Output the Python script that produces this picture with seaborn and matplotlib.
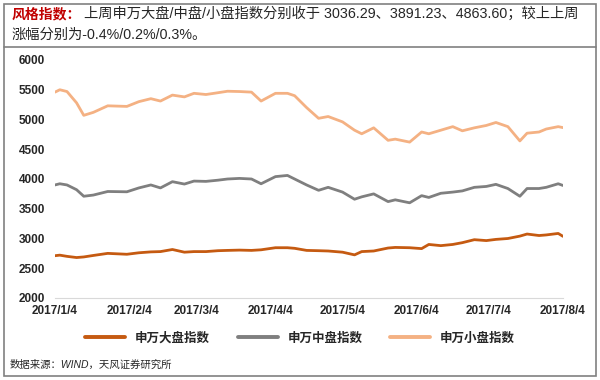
import matplotlib
matplotlib.use("Agg")
import matplotlib.pyplot as plt
from matplotlib.lines import Line2D
from matplotlib.patches import Rectangle
import pandas as pd
import seaborn as sns

# values
dates = ["2017-01-04", "2017-01-06", "2017-01-09", "2017-01-13", "2017-01-16", "2017-01-20",
         "2017-01-26", "2017-02-03", "2017-02-08", "2017-02-13", "2017-02-17", "2017-02-22",
         "2017-02-27", "2017-03-03", "2017-03-08", "2017-03-13", "2017-03-17", "2017-03-22",
         "2017-03-27", "2017-03-31", "2017-04-06", "2017-04-11", "2017-04-14", "2017-04-19",
         "2017-04-24", "2017-04-28", "2017-05-04", "2017-05-09", "2017-05-12", "2017-05-17",
         "2017-05-23", "2017-05-26", "2017-06-01", "2017-06-06", "2017-06-09", "2017-06-14",
         "2017-06-19", "2017-06-23", "2017-06-28", "2017-07-03", "2017-07-07", "2017-07-12",
         "2017-07-17", "2017-07-20", "2017-07-25", "2017-07-28", "2017-08-02", "2017-08-04"]

large_cap = [2711, 2720, 2700, 2680, 2690, 2715, 2750, 2735, 2760, 2775, 2780, 2815,
             2770, 2780, 2780, 2795, 2800, 2805, 2800, 2810, 2845, 2845, 2835, 2800,
             2795, 2790, 2770, 2725, 2780, 2790, 2840, 2850, 2845, 2830, 2900, 2880,
             2900, 2930, 2980, 2965, 2985, 3000, 3040, 3075, 3050, 3060, 3085, 3036.29]

mid_cap = [3900, 3920, 3900, 3820, 3710, 3730, 3790, 3785, 3850, 3900, 3850, 3955,
           3915, 3965, 3960, 3980, 4000, 4010, 4000, 3920, 4040, 4060, 4000, 3900,
           3810, 3860, 3780, 3660, 3700, 3750, 3620, 3650, 3600, 3720, 3690, 3760,
           3780, 3800, 3860, 3875, 3910, 3840, 3710, 3840, 3840, 3860, 3920, 3891.23]

small_cap = [5460, 5500, 5470, 5280, 5070, 5120, 5230, 5220, 5300, 5350, 5310, 5410,
             5380, 5440, 5420, 5450, 5475, 5470, 5460, 5310, 5440, 5440, 5400, 5200,
             5020, 5050, 4960, 4820, 4760, 4860, 4650, 4670, 4620, 4790, 4760, 4820,
             4880, 4810, 4860, 4900, 4950, 4880, 4640, 4770, 4790, 4840, 4880, 4863.60]

series_names = ["申万大盘指数", "申万中盘指数", "申万小盘指数"]
colors = ["#C55A11", "#7F7F7F", "#F4B183"]
tick_dates = ["2017-01-04", "2017-02-04", "2017-03-04", "2017-04-04",
              "2017-05-04", "2017-06-04", "2017-07-04", "2017-08-04"]
tick_labels = ["2017/1/4", "2017/2/4", "2017/3/4", "2017/4/4",
               "2017/5/4", "2017/6/4", "2017/7/4", "2017/8/4"]
y_ticks = [2000, 2500, 3000, 3500, 4000, 4500, 5000, 5500, 6000]

df = pd.DataFrame({"date": pd.to_datetime(dates),
                   series_names[0]: large_cap,
                   series_names[1]: mid_cap,
                   series_names[2]: small_cap})
long_df = df.melt(id_vars="date", var_name="series", value_name="value")

sns.set_style("white")
plt.rcParams["font.family"] = ["Liberation Sans", "Noto Sans CJK SC", "DejaVu Sans"]

fig = plt.figure(figsize=(6, 3.8), dpi=100)
ax = fig.add_axes([55 / 600, 1 - 298 / 380, 508 / 600, 238 / 380])

sns.lineplot(data=long_df, x="date", y="value", hue="series", hue_order=series_names,
             palette=colors, linewidth=2.0, ax=ax, legend=False)

ax.set_xlim(pd.Timestamp("2017-01-04"), pd.Timestamp("2017-08-04"))
ax.set_ylim(2000, 6000)
ax.set_xticks(pd.to_datetime(tick_dates))
ax.set_xticklabels(tick_labels, fontsize=8.5, fontweight="bold")
ax.set_yticks(y_ticks)
ax.set_yticklabels([str(v) for v in y_ticks], fontsize=8.5, fontweight="bold")
ax.set_xlabel("")
ax.set_ylabel("")
for side in ["left", "right", "top"]:
    ax.spines[side].set_visible(False)
ax.spines["bottom"].set_color("#D9D9D9")
ax.tick_params(axis="x", length=3, color="#D9D9D9", pad=2)
ax.tick_params(axis="y", length=0, pad=7)

handles = [Line2D([0], [0], color=c, lw=2.8) for c in colors]
fig.legend(handles, series_names, loc="center", bbox_to_anchor=(0.5, 1 - 338 / 380),
           ncol=3, frameon=False, handlelength=3.2, columnspacing=2.2,
           prop={"family": ["Noto Sans CJK SC"], "weight": "bold", "size": 9})

# header text box
fig.text(12 / 600, 1 - 14 / 380, "风格指数：", color="#C00000", fontsize=10,
         fontweight="bold", va="center", family=["Noto Sans CJK SC"])
fig.text(84 / 600, 1 - 14 / 380,
         "上周申万大盘/中盘/小盘指数分别收于 3036.29、3891.23、4863.60；较上上周",
         fontsize=10.3, va="center", family=["Liberation Sans", "Noto Sans CJK SC"])
fig.text(12 / 600, 1 - 35 / 380, "涨幅分别为-0.4%/0.2%/0.3%。",
         fontsize=10.3, va="center", family=["Liberation Sans", "Noto Sans CJK SC"])
fig.text(10 / 600, 1 - 365 / 380, "数据来源：WIND，天风证券研究所",
         fontsize=7.5, style="italic", va="center",
         family=["Liberation Sans", "Noto Sans CJK SC"])

fig.add_artist(Rectangle((4 / 600, 4 / 380), 592 / 600, 372 / 380, transform=fig.transFigure,
                         fill=False, edgecolor="#808080", lw=1.2))
fig.add_artist(Line2D([4 / 600, 596 / 600], [1 - 47 / 380, 1 - 47 / 380],
                      transform=fig.transFigure, color="#808080", lw=1.2))

fig.savefig("out.png", dpi=100)
